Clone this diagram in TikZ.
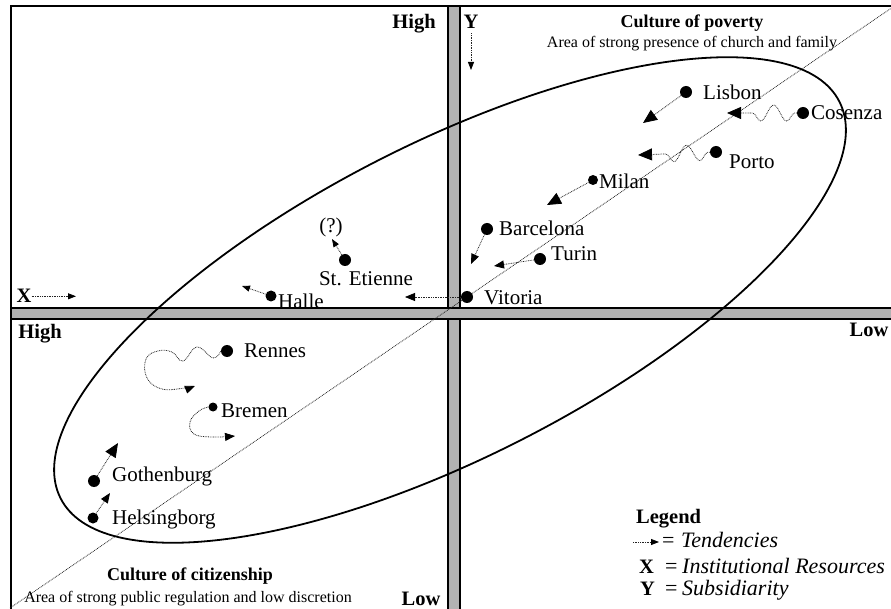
\documentclass[tikz,border=0pt]{standalone}
\usepackage{fontspec}
\setmainfont{Liberation Serif}
\usetikzlibrary{arrows.meta,decorations.pathmorphing}
\definecolor{gris}{RGB}{178,178,178}
\definecolor{trait}{RGB}{35,35,35}

\begin{document}
\begin{tikzpicture}[x=1pt, y=-1pt,
  ville/.style={font=\fontsize{21}{24}\selectfont, inner sep=0pt, anchor=west},
  point/.style={circle, fill=black, inner sep=0pt, minimum size=12pt},
  axe/.style={font=\fontsize{20.5}{24}\selectfont\bfseries, inner sep=0pt, anchor=base},
  culture/.style={font=\fontsize{18}{21}\selectfont\bfseries, inner sep=0pt, anchor=base},
  zone/.style={font=\fontsize{16}{19}\selectfont, inner sep=0pt, anchor=base},
  legende/.style={font=\fontsize{22}{25}\selectfont, inner sep=0pt, anchor=base west},
  tend/.style={dash pattern=on 0.8pt off 0.9pt, line width=0.8pt, draw=trait},
  grande/.style={tend, -{Triangle[length=14pt, width=12pt, color=black]}},
  moyenne/.style={tend, -{Triangle[length=10pt, width=8pt, color=black]}},
  petite/.style={tend, -{Triangle[length=8pt, width=6pt, color=black]}},
  vague/.style={decorate, decoration={snake, amplitude=8pt, segment length=26pt, pre length=2pt, post length=16pt}}]
\useasboundingbox (0,0) rectangle (891,609);
\clip (0,0) rectangle (891,609);
\draw[line width=2pt] (11,6) rectangle (905,625);
\draw[fill=gris, line width=1.1pt] (448,6) rectangle (460,625);
\draw[fill=gris, line width=1.1pt] (11,308) rectangle (905,319);
\draw[tend] (10,608) -- (893,7);
\draw[line width=1.8pt, rotate around={27:(450,300)}] (450,300) ellipse (437 and 157);

\node[axe] (hautY) at (414,29) {High};
\node[axe] (y) at (471,29) {Y};
\node[axe] (x) at (24,303) {X};
\node[axe] (hautX) at (40,339) {High};
\node[axe] (basX) at (869,337) {Low};
\node[axe] (basY) at (421,605) {Low};
\node[culture] (pauvrete) at (692,28) {Culture of poverty};
\node[zone] (eglise) at (692,48) {Area of strong presence of church and family};
\node[culture] (citoyen) at (190,580) {Culture of citizenship};
\node[zone] (public) at (188,602) {Area of strong public regulation and low discretion};

\node[point] (lisbon) at (686,92) {}; \node[ville] (tlisbon) at (703,92) {Lisbon};
\node[point] (cosenza) at (803,113) {}; \node[ville] (tcosenza) at (811,113) {Cosenza};
\node[point] (porto) at (716,152) {}; \node[ville] (tporto) at (729,162) {Porto};
\node[point, minimum size=10pt] (milan) at (593,180) {}; \node[ville] (tmilan) at (599,181) {Milan};
\node[point] (barcelona) at (487,229) {}; \node[ville] (tbarcelona) at (499,228) {Barcelona};
\node[point] (turin) at (540,259) {}; \node[ville] (tturin) at (551,254) {Turin};
\node[point] (vitoria) at (467,297) {}; \node[ville] (tvitoria) at (484,298) {Vitoria};
\node[point] (etienne) at (345,260) {}; \node[ville, anchor=center] (tetienne) at (366,279) {St. Etienne};
\node[ville, anchor=center] (doute) at (331,227) {(?)};
\node[point, minimum size=11pt] (halle) at (271,296) {}; \node[ville] (thalle) at (278,301) {Halle};
\node[point] (rennes) at (227,351) {}; \node[ville] (trennes) at (244,351) {Rennes};
\node[point, minimum size=9pt] (bremen) at (213,407) {}; \node[ville] (tbremen) at (221,411) {Bremen};
\node[point] (gothenburg) at (94,481) {}; \node[ville] (tgothenburg) at (112,476) {Gothenburg};
\node[point, minimum size=11pt] (helsingborg) at (93,518) {}; \node[ville] (thelsingborg) at (112,519) {Helsingborg};

\coordinate (flisbon) at (643,123); \coordinate (fcosenza) at (727,113); \coordinate (fporto) at (638,155);
\coordinate (fmilan) at (547,205); \coordinate (fbarcelona) at (471,264); \coordinate (fturin) at (494,266);
\coordinate (fvitoria) at (405,297); \coordinate (fetienne) at (332,239); \coordinate (fhalle) at (242,286);
\coordinate (frennes) at (195,386); \coordinate (fbremen) at (235,436);
\coordinate (fgothenburg) at (118,443); \coordinate (fhelsingborg) at (110,493);
\coordinate (fx) at (76,297); \coordinate (fy) at (471,70);

\draw[grande] (lisbon) -- (flisbon); \draw[grande] (milan) -- (fmilan); \draw[grande] (gothenburg) -- (fgothenburg);
\draw[grande, vague] (cosenza) -- (fcosenza); \draw[grande, vague] (porto) -- (fporto);
\draw[moyenne] (barcelona) -- (fbarcelona); \draw[moyenne] (turin) -- (fturin); \draw[moyenne] (vitoria) -- (fvitoria);
\draw[moyenne] (helsingborg) -- (fhelsingborg);
\draw[petite] (etienne) -- (fetienne); \draw[petite] (halle) -- (fhalle);
\draw[moyenne] plot[smooth, tension=0.7] coordinates {(rennes.west) (213,358) (197,347) (183,361) (172,352) (158,351) (146,359) (147,378) (162,389) (185,388) (frennes)};
\draw[moyenne] plot[smooth, tension=0.7] coordinates {(bremen.west) (199,411) (190,422) (194,434) (212,437) (fbremen)};
\draw[petite] (x.east) -- (x.east -| fx);
\draw[petite] (y.south) ++(0,4) -- (fy);

\node[axe, anchor=base west] (legende) at (636,523) {Legend};
\coordinate (l0) at (633,542); \coordinate (l1) at (659,542);
\draw[petite] (l0) -- (l1);
\node[legende] (egal1) at (662,547) {=}; \node[legende] (tendances) at (681,547) {\itshape Tendencies};
\node[axe, anchor=base west] (lx) at (639,573) {X}; \node[legende] (egal2) at (665,573) {=}; \node[legende] (ressources) at (682,573) {\itshape Institutional Resources};
\node[axe, anchor=base west] (ly) at (640,595) {Y}; \node[legende] (egal3) at (665,595) {=}; \node[legende] (subsidiarite) at (682,595) {\itshape Subsidiarity};
\end{tikzpicture}
\end{document}
